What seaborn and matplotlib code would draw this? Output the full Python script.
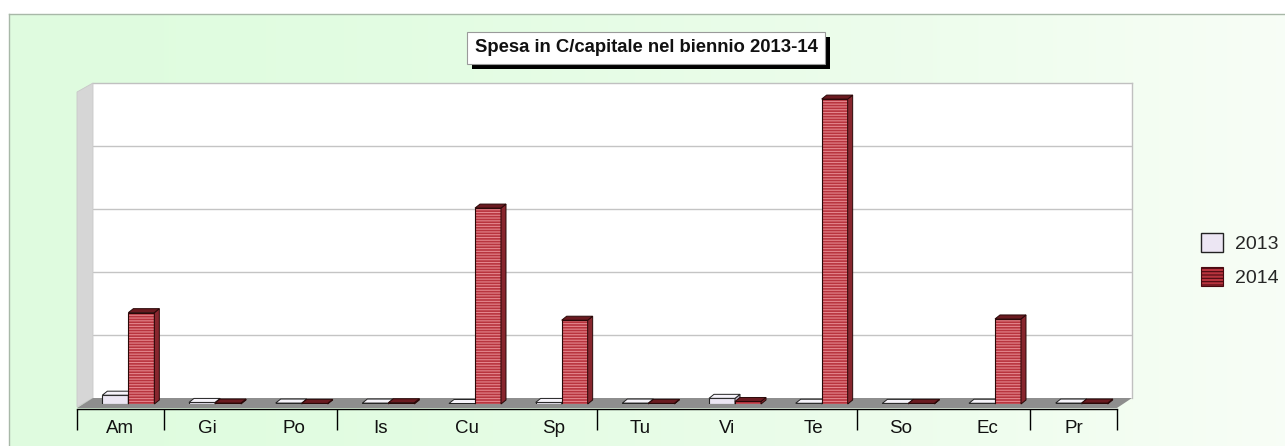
import numpy as np
import pandas as pd
import matplotlib
matplotlib.use("Agg")
import matplotlib.pyplot as plt
import seaborn as sns
from matplotlib.patches import Polygon, Rectangle, Patch
from matplotlib import patheffects as pe

# Capital expenditure per area (same unit for both years; one gridline = 1000)
categories = ["Am", "Gi", "Po", "Is", "Cu", "Sp", "Tu", "Vi", "Te", "So", "Ec", "Pr"]
spesa_2013 = [140, 25, 15, 15, 8, 25, 15, 90, 12, 10, 12, 15]
spesa_2014 = [1450, 15, 10, 20, 3110, 1330, 10, 40, 4840, 10, 1350, 15]
years = ["2013", "2014"]
title = "Spesa in C/capitale nel biennio 2013-14"

# boundaries where the category axis shows tick marks
tick_bounds = [0, 1, 3, 6, 9, 11, 12]

W, H = 1285, 446
sns.set_theme(style="white")
plt.rcParams["font.family"] = ["Liberation Sans", "DejaVu Sans"]
plt.rcParams["hatch.linewidth"] = 0.8

C13, C13_SIDE, C13_TOP = "#ece6f3", "#bdb5c8", "#f6f3fa"
C14, C14_SIDE, C14_TOP = "#b8343e", "#88262e", "#6a1a20"
STRIPE = "#e4868d"
OUTLINE = "#2a0808"

fig = plt.figure(figsize=(W / 100, H / 100), dpi=100)


def fx(x):
    return x / W


def fy(y):
    return 1 - y / H


def rect(l, t, r, b):
    return [fx(l), fy(b), fx(r) - fx(l), fy(t) - fy(b)]


# soft green background with a thin frame
bg = fig.add_axes(rect(9, 14, W + 5, H + 5))
bg.set_zorder(-10)
t = np.linspace(0, 1, 300)
left = np.array([0.875, 0.988, 0.875])
right = np.array([0.972, 0.995, 0.966])
mix = np.clip(t ** 1.6, 0, 1)[None, :, None]
grad = left[None, None, :] * (1 - mix) + right[None, None, :] * mix
grad = np.repeat(grad, 10, axis=0)
bg.imshow(grad, aspect="auto", extent=[0, 1, 0, 1], interpolation="bilinear")
bg.set_xlim(0, 1)
bg.set_ylim(0, 1)
bg.set_xticks([])
bg.set_yticks([])
for s in ["right", "bottom"]:
    bg.spines[s].set_visible(False)
for s in ["top", "left"]:
    bg.spines[s].set_color("#a8b8a8")
    bg.spines[s].set_linewidth(1)

# back wall with gridlines
wall = fig.add_axes(rect(93, 83, 1132, 398))
wall.set_facecolor("white")
wall.set_ylim(0, 5000)
wall.set_xlim(0, 1)
wall.set_yticks([1000, 2000, 3000, 4000])
wall.set_xticks([])
wall.tick_params(length=0, labelleft=False)
wall.grid(axis="y", color="#c4c4c4", lw=1)
for s in ["left", "bottom"]:
    wall.spines[s].set_visible(False)
for s in ["top", "right"]:
    wall.spines[s].set_color("#c0c0c0")
    wall.spines[s].set_linewidth(1)

# side wall and floor
fig.add_artist(Polygon([(fx(77), fy(92)), (fx(93), fy(83)), (fx(93), fy(398)), (fx(77), fy(407))],
                       closed=True, fc="#d6d6d6", ec="#c8c8c8", lw=0.6,
                       transform=fig.transFigure, zorder=0.5))
fig.add_artist(Polygon([(fx(93), fy(398)), (fx(1132), fy(398)), (fx(1117), fy(408)), (fx(77), fy(408))],
                       closed=True, fc="#8e8e8e", ec="none",
                       transform=fig.transFigure, zorder=0.5))

# bars
bars = fig.add_axes(rect(85, 89, 1125, 404))
bars.set_zorder(2)
bars.patch.set_alpha(0)
df = pd.DataFrame({
    "area": categories * 2,
    "anno": [years[0]] * len(categories) + [years[1]] * len(categories),
    "spesa": spesa_2013 + spesa_2014,
})
sns.barplot(data=df, x="area", y="spesa", hue="anno", order=categories,
            hue_order=years, palette=[C13, C14], width=0.6, saturation=1,
            legend=False, ax=bars)
bars.set_xlim(-0.5, len(categories) - 0.5)
bars.set_ylim(0, 5000)
bars.axis("off")

DX, DY = 5, 4  # bar depth in pixels
to_disp = bars.transData
to_data = bars.transData.inverted()
n = len(categories)
for i, p in enumerate(list(bars.patches)):
    is14 = i >= n
    x0, y0, w, h = p.get_x(), p.get_y(), p.get_width(), p.get_height()
    (a0, b0), (a1, b1) = to_disp.transform([(x0, y0), (x0 + w, y0 + h)])
    side = to_data.transform([(a1, b0), (a1, b1), (a1 + DX, b1 + DY), (a1 + DX, b0 + DY)])
    top = to_data.transform([(a0, b1), (a1, b1), (a1 + DX, b1 + DY), (a0 + DX, b1 + DY)])
    z = 3 if is14 else 2
    p.set_zorder(z)
    if is14:
        p.set_hatch("------")
        p.set_edgecolor(STRIPE)
        p.set_linewidth(0)
        bars.add_patch(Rectangle((x0, y0), w, h, fill=False, ec=OUTLINE, lw=0.8, zorder=z + 0.05))
        sc, tc, ec = C14_SIDE, C14_TOP, OUTLINE
    else:
        p.set_edgecolor("#222222")
        p.set_linewidth(0.8)
        sc, tc, ec = C13_SIDE, C13_TOP, "#222222"
    bars.add_patch(Polygon(side, closed=True, fc=sc, ec=ec, lw=0.7, zorder=z + 0.1, clip_on=False))
    bars.add_patch(Polygon(top, closed=True, fc=tc, ec=ec, lw=0.7, zorder=z + 0.1, clip_on=False))

# category axis
cax = fig.add_axes(rect(77, 380, 1117, 409))
cax.set_zorder(1)
cax.patch.set_alpha(0)
cax.set_xlim(0, n)
cax.set_ylim(0, 1)
for s in ["top", "left", "right"]:
    cax.spines[s].set_visible(False)
cax.spines["bottom"].set_color("black")
cax.spines["bottom"].set_linewidth(1)
cax.set_yticks([])
cax.set_xticks(tick_bounds)
cax.set_xticklabels([""] * len(tick_bounds))
cax.set_xticks(np.arange(n) + 0.5, minor=True)
cax.set_xticklabels(categories, minor=True, fontsize=13.5, color="#111111")
cax.tick_params(axis="x", which="major", direction="out", length=15, width=1, color="black", bottom=True)
cax.tick_params(axis="x", which="minor", length=0, pad=8, bottom=True)

# legend
handles = [
    Patch(fc=C13, ec="#222222", lw=1),
    Patch(fc=C14, ec="#4a0a10", lw=0.8, hatch="-----"),
]
fig.legend(handles=handles, labels=years, loc="center left",
           bbox_to_anchor=(fx(1185), fy(260)), frameon=False, fontsize=14,
           handlelength=1.13, handleheight=1.13, labelspacing=0.67,
           handletextpad=0.65, borderpad=0.3)

# boxed title with drop shadow
ttl = fig.text(fx(646), fy(48), title, ha="center", va="center", fontsize=13.3,
               fontweight="bold", color="#111111",
               bbox=dict(boxstyle="square,pad=0.4", fc="white", ec="#9a9a9a", lw=0.8))
ttl.get_bbox_patch().set_path_effects([
    pe.SimplePatchShadow(offset=(3.5, -3.5), shadow_rgbFace="black", alpha=1),
    pe.Normal(),
])

fig.savefig("out.png", dpi=100)
